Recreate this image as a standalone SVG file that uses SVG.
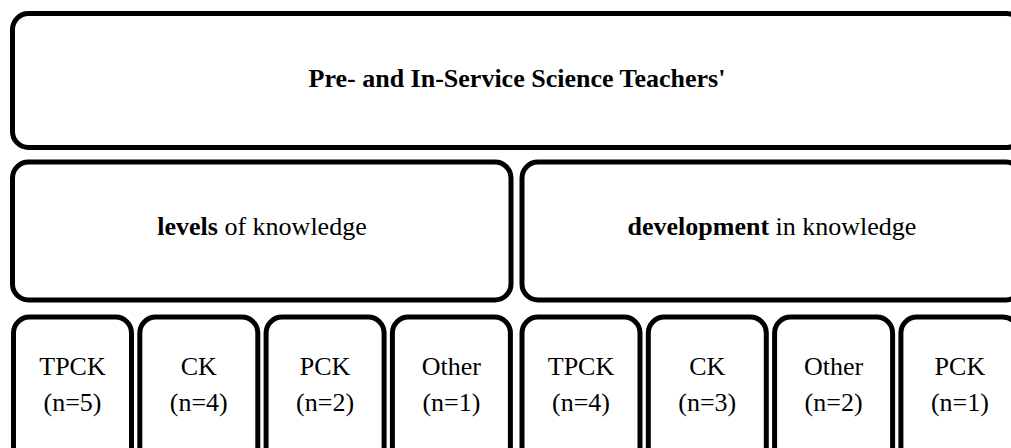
<svg xmlns="http://www.w3.org/2000/svg" width="1011" height="448" viewBox="0 0 1011 448">
<style>
rect.b{fill:#fff;stroke:#000;stroke-width:5}
text{font-family:'Liberation Serif','Times New Roman',Tinos,'DejaVu Serif',serif;font-size:26px;fill:#000;text-anchor:middle}
.bold{font-weight:bold}
</style>
<rect width="1011" height="448" fill="#fff"/>
<g id="top">
<rect class="b" x="12.5" y="13.5" width="1010" height="134" rx="16"/>
<text class="bold" x="517" y="87">Pre- and In-Service Science Teachers'</text>
</g>
<g id="levels">
<rect class="b" x="12.5" y="162" width="498.5" height="138" rx="16"/>
<text x="262" y="235"><tspan class="bold">levels</tspan> of knowledge</text>
</g>
<g id="development">
<rect class="b" x="522" y="162" width="500" height="138" rx="16"/>
<text x="772" y="235"><tspan class="bold">development</tspan> in knowledge</text>
</g>
<g id="l-tpck"><rect class="b" x="13.5" y="317" width="118" height="160" rx="16"/><text x="72.5" y="375">TPCK</text><text x="72.5" y="411">(n=5)</text></g>
<g id="l-ck"><rect class="b" x="139.8" y="317" width="118" height="160" rx="16"/><text x="198.8" y="375">CK</text><text x="198.8" y="411">(n=4)</text></g>
<g id="l-pck"><rect class="b" x="266.1" y="317" width="118" height="160" rx="16"/><text x="325.1" y="375">PCK</text><text x="325.1" y="411">(n=2)</text></g>
<g id="l-other"><rect class="b" x="392.4" y="317" width="118" height="160" rx="16"/><text x="451.4" y="375">Other</text><text x="451.4" y="411">(n=1)</text></g>
<g id="d-tpck"><rect class="b" x="522" y="317" width="118" height="160" rx="16"/><text x="581" y="375">TPCK</text><text x="581" y="411">(n=4)</text></g>
<g id="d-ck"><rect class="b" x="648.3" y="317" width="118" height="160" rx="16"/><text x="707.3" y="375">CK</text><text x="707.3" y="411">(n=3)</text></g>
<g id="d-other"><rect class="b" x="774.6" y="317" width="118" height="160" rx="16"/><text x="833.6" y="375">Other</text><text x="833.6" y="411">(n=2)</text></g>
<g id="d-pck"><rect class="b" x="900.9" y="317" width="118" height="160" rx="16"/><text x="959.9" y="375">PCK</text><text x="959.9" y="411">(n=1)</text></g>
<g id="connectors"></g>
</svg>
